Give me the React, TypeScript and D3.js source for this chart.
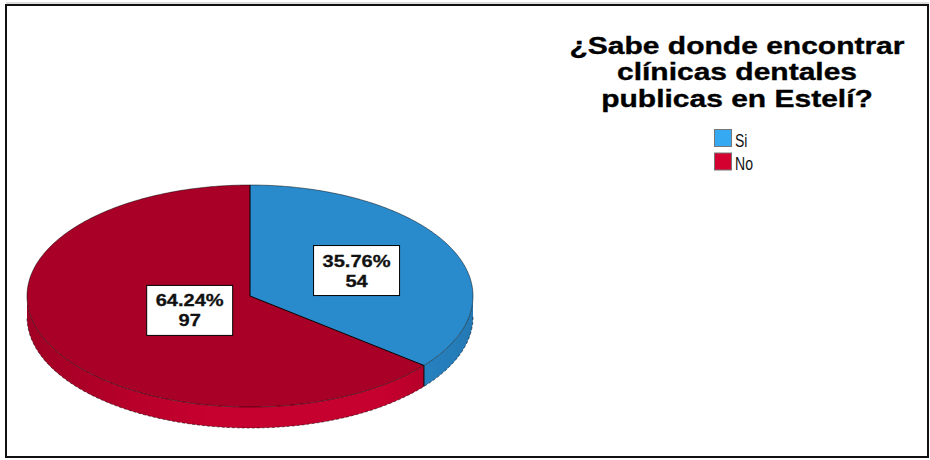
import React from "react";
import * as d3 from "d3";

const categories = ["Si", "No"];
const counts = [54, 97];
const percents = ["35.76%", "64.24%"];
const titleLines = ["¿Sabe donde encontrar", "clínicas dentales", "publicas en Estelí?"];

const topColors = ["#2a8bcc", "#a80026"];
const sideLight = ["#2a89c9", "#c6002f"];
const sideDark = ["#2379b4", "#a10024"];
const legendColors = ["#35aaf2", "#d4002f"];

const W = 930, H = 460;
const cx = 250, cy = 296, rx = 223, ry = 111, depth = 21;
const labelFrac = [0.53, 0.3];

function pt(a: number, dy = 0): [number, number] {
  return [cx + rx * Math.sin(a), cy - ry * Math.cos(a) + dy];
}

export default function App() {
  const pie = d3.pie<number>().sort(null).startAngle(0).endAngle(2 * Math.PI);
  const arcs = pie(counts);
  const line = d3.line();

  const arcPts = (a0: number, a1: number, dy = 0) => {
    const n = Math.max(8, Math.ceil((a1 - a0) / 0.01));
    return d3.range(n + 1).map((i) => pt(a0 + ((a1 - a0) * i) / n, dy));
  };

  const topPath = (a0: number, a1: number) => line([[cx, cy], ...arcPts(a0, a1)]) + "Z";

  const sidePath = (a0: number, a1: number) => {
    const s = Math.max(a0, Math.PI / 2);
    const e = Math.min(a1, (3 * Math.PI) / 2);
    if (e <= s) return null;
    return line([...arcPts(s, e), ...arcPts(s, e, depth).reverse()]) + "Z";
  };

  return (
    <svg width={W} height={H} style={{ position: "absolute", left: 0, top: 0, background: "#fff" }}>
      <defs>
        {arcs.map((_, i) => (
          <linearGradient key={i} id={`side${i}`} x1={cx - rx} x2={cx + rx} y1="0" y2="0" gradientUnits="userSpaceOnUse">
            <stop offset="0" stopColor={sideDark[i]} />
            <stop offset="0.4" stopColor={sideLight[i]} />
            <stop offset="0.8" stopColor={sideLight[i]} />
            <stop offset="1" stopColor={sideDark[i]} />
          </linearGradient>
        ))}
      </defs>
      <rect x={0} y={0} width={W} height={H} fill="#fff" />
      <line x1={6} y1={3} x2={929} y2={3} stroke="#bbb" strokeWidth={1} />
      <rect x={6} y={5} width={922} height={452} fill="#fff" stroke="#111" strokeWidth={2} />

      {/* sides */}
      {arcs.map((a, i) => {
        const d = sidePath(a.startAngle, a.endAngle);
        return d ? <path key={`s${i}`} d={d} fill={`url(#side${i})`} stroke="none" /> : null;
      })}
      {/* bottom rim */}
      <path d={line(arcPts(Math.PI / 2, (3 * Math.PI) / 2, depth)) || ""} fill="none" stroke="#000" strokeWidth={0.8} strokeDasharray="3 2" strokeOpacity={0.7} />
      {/* tops */}
      {arcs.map((a, i) => (
        <path key={`t${i}`} d={topPath(a.startAngle, a.endAngle)} fill={topColors[i]} stroke="none" />
      ))}
      {/* top rim */}
      <path d={line(arcPts(0, 2 * Math.PI)) + "Z"} fill="none" stroke="#000" strokeWidth={0.8} strokeOpacity={0.6} />
      {/* radial edges */}
      {arcs.map((a, i) => (
        <path key={`r${i}`} d={line([[cx, cy], pt(a.startAngle)]) || ""} stroke="#000" strokeWidth={1} fill="none" />
      ))}
      <path d={line([pt(arcs[0].endAngle), pt(arcs[0].endAngle, depth)]) || ""} stroke="#000" strokeWidth={1} />

      {/* labels */}
      {arcs.map((a, i) => {
        const mid = (a.startAngle + a.endAngle) / 2;
        const f = labelFrac[i];
        const x = cx + rx * Math.sin(mid) * f;
        const y = cy - ry * Math.cos(mid) * f;
        return (
          <g key={`l${i}`} transform={`translate(${x},${y})`}>
            <rect x={-43} y={-25} width={86} height={50} fill="#fff" stroke="#000" strokeWidth={1} />
            <g transform="scale(1.18,1)" fontFamily="Liberation Sans, Arial, sans-serif" fontWeight="bold" fontSize={17} textAnchor="middle" fill="#111" stroke="#111" strokeWidth={0.3}>
              <text x={0} y={-4}>{percents[i]}</text>
              <text x={0} y={16}>{counts[i]}</text>
            </g>
          </g>
        );
      })}

      {/* title */}
      <g transform="translate(737,0) scale(1.25,1)" fontFamily="Liberation Sans, Arial, sans-serif" fontWeight="bold" fontSize={24} textAnchor="middle" fill="#000" stroke="#000" strokeWidth={0.35}>
        {titleLines.map((t, i) => (
          <text key={i} x={0} y={54 + i * 26.5}>{t}</text>
        ))}
      </g>

      {/* legend */}
      {categories.map((c, i) => (
        <g key={c} transform={`translate(714,${129 + i * 23.5})`}>
          <rect x={0.5} y={0.5} width={17} height={17} fill={legendColors[i]} stroke="#777" strokeWidth={1} />
          <g transform="translate(21,17.5) scale(0.78,1)">
            <text x={0} y={0} fontFamily="Liberation Sans, Arial, sans-serif" fontSize={18} fill="#111">{c}</text>
          </g>
        </g>
      ))}
    </svg>
  );
}
